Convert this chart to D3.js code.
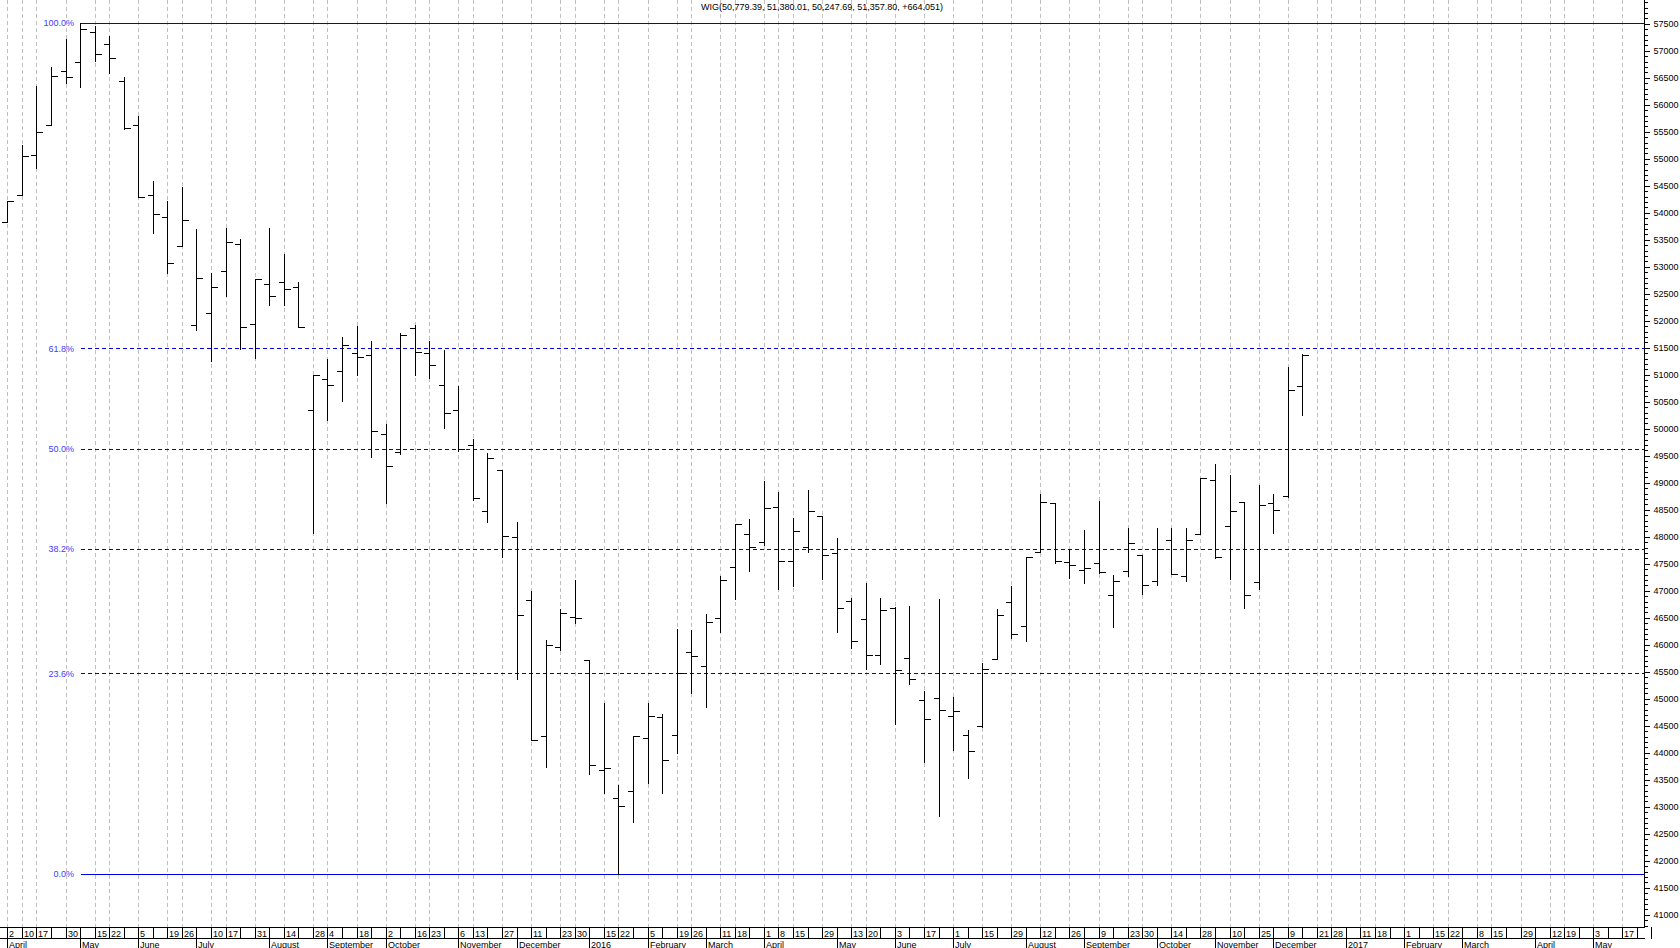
<!DOCTYPE html>
<html>
<head>
<meta charset="utf-8">
<script src="https://cdn.jsdelivr.net/npm/d3@7/dist/d3.min.js"></script>
<style>
html, body { margin: 0; padding: 0; background: #fff; }
svg { display: block; font-family: Arial, "Liberation Sans", sans-serif; }
</style>
</head>
<body>
<script>
var title = "WIG(50,779.39, 51,380.01, 50,247.69, 51,357.80, +664.051)";

// weekly OHLC, week of 2 Apr 2015 .. week of 16 Dec 2016
var open = [53826,54320,55061,55611,56617,56783,57333,57117,56437,55611,
  54320,53907,53381,51913,52130,52919,53407,51926,52667,52704,
  52622,50339,50907,51061,51389,51352,49889,49567,51852,51389,
  50796,50339,49685,48463,49228,47981,46820,44302,45950,46500,
  45709,43672,43148,43283,44259,44648,44320,45852,45593,46481,
  47431,48037,47889,48537,47548,47796,48370,47685,46802,46463,
  45796,46667,45741,44963,45000,44667,44315,44481,45733,46778,
  46339,47709,48617,47524,47376,47506,46907,47357,47648,47167,
  47926,47265,48043,49037,48185,48630,47148,48611,48741,50779.39];
var high = [54209,55246,56339,56696,57209,57500,57450,57265,56511,55783,
  54580,54209,54474,53691,52870,53704,53506,52765,53704,53228,
  52715,50981,51278,51685,51894,51611,50074,51759,51913,51611,
  51450,50783,49796,49537,49228,48270,46987,46080,46654,47191,
  45709,44907,43394,44302,44907,44709,46278,46265,46556,47265,
  48222,48320,49024,48820,48333,48857,48370,47963,46852,47130,
  46852,46696,46709,45135,46839,45030,44413,45659,46654,47080,
  47622,48783,48617,47759,48117,48654,47283,48148,47648,48148,
  48148,48148,49080,49333,49135,48630,48950,48783,51141,51380.01];
var low = [53826,54320,54815,55611,56389,56326,56802,56585,55543,54289,
  53611,52882,53381,51820,51246,52456,51463,51307,52283,52283,
  51870,48067,50154,50511,50987,49474,48622,49524,50987,50937,
  50011,49580,48672,48270,47622,45352,44222,43733,45894,46400,
  43598,43241,41741,42715,43437,43241,43981,45104,44844,46233,
  46839,47363,47839,47024,47085,47715,47215,46233,45937,45548,
  45630,44519,45259,43815,42826,44043,43530,44474,45722,46122,
  46067,47709,47500,47233,47141,47315,46326,47270,46931,47098,
  47296,47178,48043,47593,47209,46678,47024,48067,48733,50247.69];
var close = [54209,55043,55481,56530,56500,57400,56931,56852,55556,54289,
  53963,53056,53857,52789,52611,53444,51870,52765,52450,52574,
  51870,50981,50796,51543,51315,49944,49302,51728,51407,51167,
  50278,49611,48704,49444,48006,46543,44222,45981,46574,46481,
  43765,43704,43011,44302,44672,43852,45463,45778,46407,47185,
  48222,47796,48519,47548,48098,48469,47648,46667,46061,45796,
  46630,45524,45352,44611,44783,44765,44019,45537,46537,46185,
  47617,48630,47537,47463,47407,47333,47172,47876,47098,47759,
  47296,47926,49080,47611,48463,46907,48580,48481,50704,51357.80];

// x axis: labelled weeks (index of week) and their day numbers
var dayTickIdx = [0,1,2,4,6,7,9,11,12,14,15,17,19,21,22,24,26,28,29,31,32,34,36,38,39,
  41,42,44,46,47,49,50,52,53,54,56,58,59,61,63,65,67,69,71,73,75,77,78,80,82,84,86,88,
  90,91,93,94,96,98,99,101,102,104,106,107,109,111];
var dayTickText = ["2","10","17","30","15","22","5","19","26","10","17","31","14","28","4","18",
  "2","16","23","6","13","27","11","23","30","15","22","5","19","26","11","18","1","8","15","29",
  "13","20","3","17","1","15","29","12","26","9","23","30","14","28","10","25","9","21","28",
  "11","18","1","15","22","8","15","29","12","19","3","17"];
var monthIdx = [0,5,9,13,18,22,26,31,35,40,44,48,52,57,61,65,70,74,79,83,87,92,96,100,105,109];
var monthText = ["April","May","June","July","August","September","October","November","December",
  "2016","February","March","April","May","June","July","August","September","October",
  "November","December","2017","February","March","April","May"];
var weekCount = 113;

var fibLevels = [1, 0.618, 0.5, 0.382, 0.236, 0];
var fibText = ["100.0%","61.8%","50.0%","38.2%","23.6%","0.0%"];

var W = 1680, H = 948, plotBottom = 927, axisX = 1644;

var svg = d3.select("body").append("svg")
    .attr("width", W)
    .attr("height", H);

var x = d3.scaleLinear().domain([0, 112]).range([7.3, 7.3 + 112 * 14.55]);
var y = d3.scaleLinear().domain([41000, 57500]).range([914.3, 23.3]);
function px(v) { return Math.round(v) + 0.5; }

// vertical dashed grid at labelled weeks
svg.append("g").selectAll("line")
    .data(dayTickIdx)
    .enter().append("line")
    .attr("x1", function(d){ return px(x(d)); })
    .attr("x2", function(d){ return px(x(d)); })
    .attr("y1", 0)
    .attr("y2", plotBottom)
    .attr("stroke", "#c0c0c0")
    .attr("stroke-dasharray", "4,3")
    .attr("shape-rendering", "crispEdges");

// fibonacci retracement lines
var hi = d3.max(high), lo = d3.min(low);
var fib = svg.append("g").selectAll("g")
    .data(fibLevels)
    .enter().append("g");
fib.append("line")
    .attr("x1", 81)
    .attr("x2", axisX)
    .attr("y1", function(d){ return px(y(lo + d * (hi - lo))); })
    .attr("y2", function(d){ return px(y(lo + d * (hi - lo))); })
    .attr("stroke", "#0000e6")
    .attr("stroke-dasharray", function(d){ return (d === 1 || d === 0) ? null : "4,3"; })
    .attr("shape-rendering", "crispEdges");
fib.append("text")
    .attr("x", 74)
    .attr("y", function(d){ return y(lo + d * (hi - lo)); })
    .attr("dy", "0.35em")
    .attr("text-anchor", "end")
    .attr("font-size", "9px")
    .attr("fill", "#3c3cff")
    .text(function(d, i){ return fibText[i]; });

// OHLC bars
svg.append("g").selectAll("path")
    .data(open)
    .enter().append("path")
    .attr("d", function(d, i){
        var cx = px(x(i));
        return "M" + cx + "," + Math.round(y(high[i])) + "V" + (Math.round(y(low[i])) + 1) +
            "M" + (cx - 6) + "," + px(y(open[i])) + "H" + cx +
            "M" + cx + "," + px(y(close[i])) + "H" + (cx + 6.5);
    })
    .attr("fill", "none")
    .attr("stroke", "#000")
    .attr("stroke-width", 1)
    .attr("shape-rendering", "crispEdges");

// right value axis
var majorTicks = d3.range(41000, 57501, 500);
var minorTicks = d3.range(40800, 57901, 100);
svg.append("line")
    .attr("x1", axisX + 0.5).attr("x2", axisX + 0.5)
    .attr("y1", 0).attr("y2", plotBottom)
    .attr("stroke", "#000")
    .attr("shape-rendering", "crispEdges");
var minorAxis = svg.append("g")
    .attr("transform", "translate(" + (axisX + 0.5) + ",0.5)")
    .call(d3.axisRight(y).tickValues(minorTicks).tickSize(3).tickFormat(""));
var majorAxis = svg.append("g")
    .attr("transform", "translate(" + (axisX + 0.5) + ",0.5)")
    .call(d3.axisRight(y).tickValues(majorTicks).tickSize(5).tickPadding(4).tickFormat(d3.format("d")));
svg.selectAll(".domain").remove();
[minorAxis, majorAxis].forEach(function(g){
    g.attr("font-family", null).attr("font-size", null);
    g.selectAll("line").attr("stroke", "#000").attr("shape-rendering", "crispEdges");
    g.selectAll("line").attr("y1", function(){ return Math.round(+this.getAttribute("y1") || 0); });
});
majorAxis.selectAll("text")
    .attr("font-size", "9px")
    .attr("fill", "#000");

// bottom date axis
var bottom = svg.append("g").attr("shape-rendering", "crispEdges");
bottom.append("line")
    .attr("x1", 0).attr("x2", axisX + 1)
    .attr("y1", plotBottom + 0.5).attr("y2", plotBottom + 0.5)
    .attr("stroke", "#000");
bottom.append("line")
    .attr("x1", 0).attr("x2", axisX + 1)
    .attr("y1", 938.5).attr("y2", 938.5)
    .attr("stroke", "#000");
bottom.selectAll(".wk")
    .data(d3.range(weekCount + 1))
    .enter().append("line")
    .attr("class", "wk")
    .attr("x1", function(d){ return px(x(d)); })
    .attr("x2", function(d){ return px(x(d)); })
    .attr("y1", plotBottom)
    .attr("y2", 939)
    .attr("stroke", "#000");
bottom.selectAll(".mo")
    .data(monthIdx)
    .enter().append("line")
    .attr("class", "mo")
    .attr("x1", function(d){ return px(x(d)); })
    .attr("x2", function(d){ return px(x(d)); })
    .attr("y1", 938)
    .attr("y2", H)
    .attr("stroke", "#000");
bottom.selectAll(".dl")
    .data(dayTickIdx)
    .enter().append("text")
    .attr("class", "dl")
    .attr("x", function(d){ return Math.round(x(d)) + 2; })
    .attr("y", 936.5)
    .attr("font-size", "9px")
    .attr("fill", "#000")
    .text(function(d, i){ return dayTickText[i]; });
bottom.selectAll(".ml")
    .data(monthIdx)
    .enter().append("text")
    .attr("class", "ml")
    .attr("x", function(d){ return Math.round(x(d)) + 2; })
    .attr("y", 947.5)
    .attr("font-size", "9px")
    .attr("fill", "#000")
    .text(function(d, i){ return monthText[i]; });

// title
svg.append("text")
    .attr("x", 822)
    .attr("y", 10)
    .attr("text-anchor", "middle")
    .attr("font-size", "9px")
    .attr("fill", "#000")
    .text(title);
</script>
</body>
</html>
